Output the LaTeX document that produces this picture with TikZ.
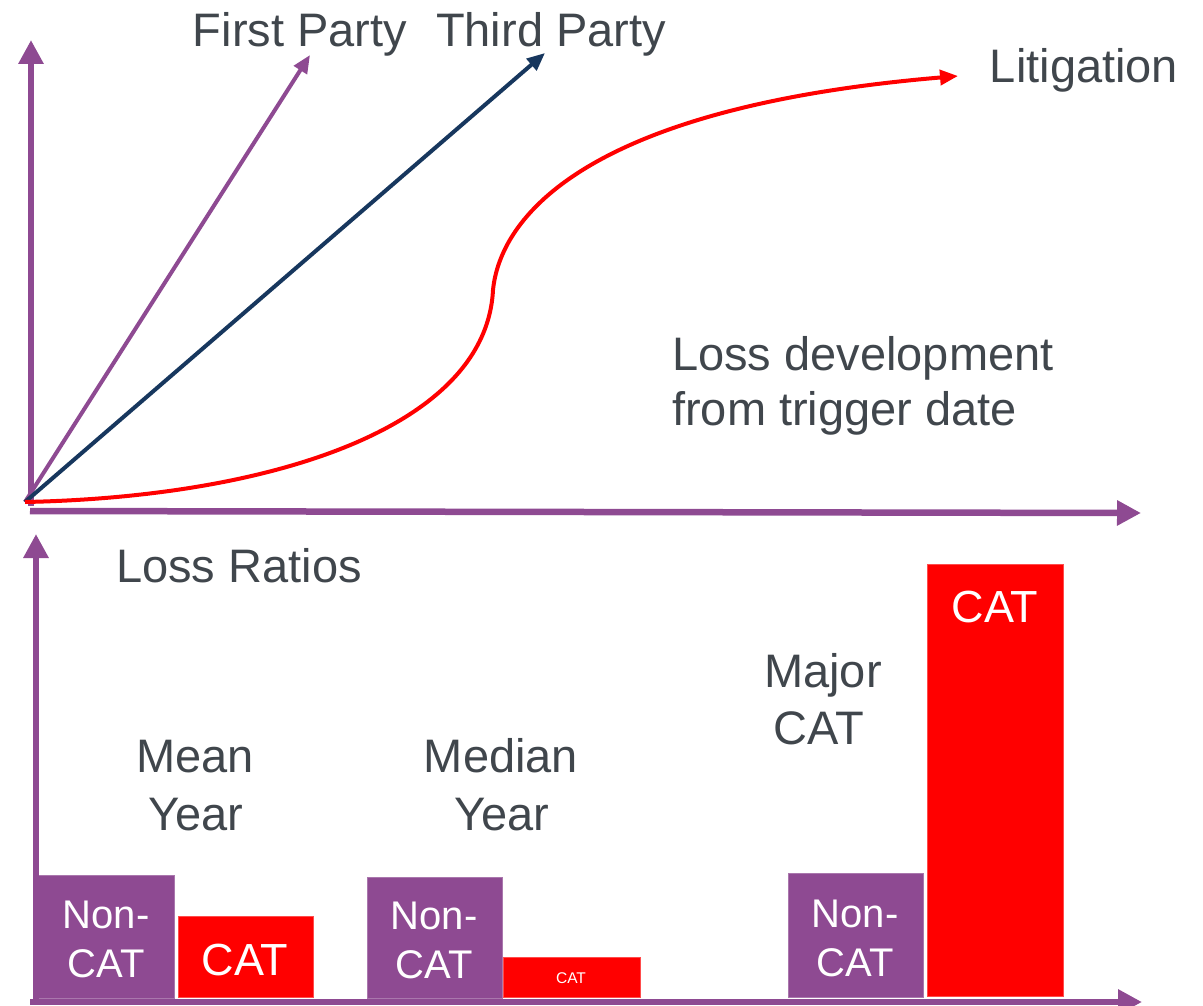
\documentclass[tikz,border=0pt]{standalone}
\usepackage{fontspec}
\setmainfont{Liberation Sans}
\usetikzlibrary{arrows.meta}
\definecolor{axpurple}{RGB}{142,74,146}
\definecolor{navyblue}{RGB}{23,55,94}
\definecolor{txtgray}{RGB}{64,70,76}
\definecolor{catred}{RGB}{255,0,0}
\begin{document}
\begin{tikzpicture}[x=1pt,y=-1pt,
  axis/.style={draw=axpurple, line width=6.5pt, -{Triangle[width=24pt,length=24pt]}},
  ray/.style={line width=4pt, -{Triangle[width=15pt,length=18pt]}},
  lbl/.style={text=txtgray, font=\fontsize{47}{56}\selectfont, anchor=base, inner sep=0pt},
  lblw/.style={lbl, anchor=base west},
  barlbl/.style={text=white, font=\fontsize{40}{48}\selectfont, anchor=base, inner sep=0pt},
  bigcat/.style={text=white, font=\fontsize{45}{54}\selectfont, anchor=base, inner sep=0pt},
  barbox/.style={anchor=north west, inner sep=0pt, outer sep=0pt, line width=0.8pt},
  ncbar/.style={barbox, fill=axpurple, draw=axpurple!75!white},
  catbar/.style={barbox, fill=catred, draw=catred!70!white}
]
\useasboundingbox (0,0) rectangle (1203,1006);

% ---------- top chart ----------
\coordinate (O) at (25,502);
\coordinate (ybase) at (31,506);
\coordinate (ytip) at (31,40);
\coordinate (xbase) at (30,511);
\coordinate (xtip) at (1141,513);
\coordinate (fptip) at (310,55);
\coordinate (tptip) at (545,53);
\coordinate (infl) at (493,290);
\coordinate (littip) at (958,76);

\draw[axis] (ybase) -- (ytip);
\draw[axis] (xbase) -- (xtip);
\draw[ray, draw=axpurple] (O) -- (fptip);
\draw[ray, draw=navyblue] (O) -- (tptip);
\draw[ray, draw=catred] (O) .. controls (270,497) and (486,428) .. (infl)
  .. controls (500,220) and (580,108) .. (littip);

\node[lbl] (fp) at (300,47) {First Party};
\node[lbl] (tp) at (551,47) {Third Party};
\node[lbl] (lit) at (1084,83) {Litigation};
\node[lblw] (ld1) at (672,370) {Loss development};
\node[lblw] (ld2) at (672,425) {from trigger date};

% ---------- bottom chart ----------
\coordinate (by0) at (36,1002);
\coordinate (bytip) at (36,534);
\coordinate (bx0) at (30,1002);
\coordinate (bxtip) at (1142,1002);

\node[lblw] (lr) at (116,582) {Loss Ratios};

\node[ncbar, minimum width=136pt, minimum height=123pt] (nc1) at (38,875) {};
\node[catbar, minimum width=135pt, minimum height=81pt] (c1) at (178,916) {};
\node[ncbar, minimum width=135pt, minimum height=121pt] (nc2) at (367,877) {};
\node[catbar, minimum width=137pt, minimum height=40pt] (c2) at (503,957) {};
\node[ncbar, minimum width=135pt, minimum height=124pt] (nc3) at (788,873) {};
\node[catbar, minimum width=136pt, minimum height=432pt] (c3) at (927,564) {};

\draw[axis] (by0) -- (bytip);
\draw[axis] (bx0) -- (bxtip);

\node[barlbl] (nc1a) at (106,928) {Non-};
\node[barlbl] (nc1b) at (106,977) {CAT};
\node[bigcat] (c1t) at (245,975) {CAT};
\node[barlbl] (nc2a) at (434,929) {Non-};
\node[barlbl] (nc2b) at (434,978) {CAT};
\node[text=white, font=\fontsize{15.5}{18}\selectfont, anchor=base, inner sep=0pt] (c2t) at (571,983) {CAT};
\node[barlbl] (nc3a) at (855,927) {Non-};
\node[barlbl] (nc3b) at (855,976) {CAT};
\node[bigcat] (c3t) at (995,622) {CAT};

\node[lbl] (mean1) at (195,772) {Mean};
\node[lbl] (mean2) at (196,830) {Year};
\node[lbl] (med1) at (501,772) {Median};
\node[lbl] (med2) at (502,830) {Year};
\node[lbl] (maj1) at (823,687) {Major};
\node[lbl] (maj2) at (819,744) {CAT};
\end{tikzpicture}
\end{document}
